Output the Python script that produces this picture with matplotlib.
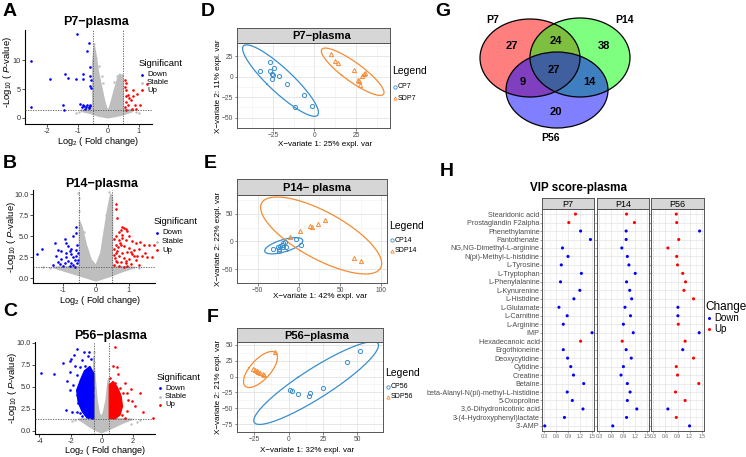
import numpy as np
import matplotlib
matplotlib.use('Agg')
import matplotlib.pyplot as plt
from matplotlib.patches import Ellipse

plt.rcParams['font.family'] = ['Liberation Sans', 'DejaVu Sans']
plt.rcParams['mathtext.fontset'] = 'custom'
plt.rcParams['mathtext.rm'] = 'Liberation Sans'
plt.rcParams['mathtext.it'] = 'Liberation Sans:italic'
plt.rcParams['mathtext.bf'] = 'Liberation Sans:bold'

# ---------------- DATA ----------------
# Volcano P7
p7_down_x = [-1.03, -0.61, -0.68, -2.53, -1.90, -1.41, -1.30, -1.05, -0.83, -0.83, -0.59, -0.58, -0.57, -0.58, -0.57,
             -2.51, -1.47, -1.44, -0.92, -0.83, -0.79, -0.72, -0.68, -0.63, -0.59, -0.86, -0.75, -0.60, -0.62]
p7_down_y = [14.6, 13.0, 11.7, 9.9, 6.7, 7.6, 6.9, 6.7, 6.7, 7.6, 8.8, 7.2, 6.5, 5.6, 5.2,
             1.9, 2.2, 1.4, 2.4, 2.2, 2.0, 1.9, 2.2, 1.8, 2.0, 1.9, 1.6, 2.3, 1.7]
p7_up_x = [0.56, 0.59, 0.57, 0.60, 0.59, 0.60, 0.57, 0.59, 1.27, 0.81, 0.67, 0.96, 0.82, 0.74, 0.89, 1.05, 0.78, 0.67, 0.68, 0.93]
p7_up_y = [6.6, 6.0, 5.3, 4.9, 3.7, 2.8, 1.9, 1.4, 5.9, 4.8, 4.0, 4.2, 3.7, 3.1, 2.2, 2.2, 1.6, 2.3, 3.4, 1.5]
p7_stable_x = [-0.45, -0.40, -0.30, -0.35, -0.20, 0.30, 0.45, -0.95, -1.05, 0.90, 1.00, -0.70, 0.75, -0.15, 0.20]
p7_stable_y = [12.8, 10.5, 9.0, 8.3, 7.2, 7.2, 7.4, 1.0, 0.9, 1.0, 0.9, 1.2, 1.2, 6.0, 6.2]
p7_cloud_x = [0.0, -0.3, -0.6, -0.85, -0.9, -0.5, -0.5, -0.45, -0.40, -0.32, -0.22, -0.12, -0.04, 0.04, 0.12, 0.22,
              0.30, 0.38, 0.47, 0.5, 0.5, 0.85, 0.7, 0.4]
p7_cloud_y = [0.0, 0.3, 0.8, 1.1, 1.3, 1.5, 9.5, 12.5, 11.0, 8.0, 5.5, 3.0, 1.5, 1.5, 3.0, 5.0,
              6.5, 7.6, 7.2, 6.0, 1.5, 1.3, 0.9, 0.4]

# Volcano P14
p14_down_x = [-1.8, -1.65, -1.25, -1.15, -1.2, -1.05, -0.95, -0.9, -0.85, -0.8, -0.75, -0.9, -0.85, -0.75, -0.7, -0.65,
              -0.6, -0.6, -0.58, -0.62, -0.6, -0.7, -1.0, -1.1, -1.3, -0.95, -0.8, -0.65, -0.58, -0.7, -0.75, -0.55,
              -0.55, -0.9, -1.05, -1.15]
p14_down_y = [2.9, 3.5, 4.2, 3.4, 2.7, 2.3, 4.7, 4.2, 3.8, 3.2, 2.9, 2.5, 2.0, 1.8, 1.6, 2.2,
              2.6, 3.4, 4.0, 5.4, 6.1, 5.0, 1.5, 1.7, 1.6, 1.8, 1.5, 1.4, 1.8, 2.5, 3.5, 2.2,
              3.0, 3.0, 3.2, 1.9]
p14_up_x = [0.62, 0.6, 0.65, 0.8, 0.85, 0.9, 0.75, 0.95, 0.7, 0.8, 1.0, 0.6, 0.55, 0.7, 0.9, 1.1, 1.2, 1.35, 1.45,
            1.6, 1.75, 0.6, 0.75, 0.85, 1.0, 1.15, 1.3, 0.55, 0.65, 0.8, 0.95, 1.1, 1.25, 1.4, 1.55, 1.7, 0.55,
            0.7, 0.85, 1.0, 1.2, 0.6, 0.75, 0.9, 1.05, 0.55, 0.7, 0.85, 1.3, 0.65, 0.58, 0.62, 0.68, 0.72, 0.8,
            0.9, 1.15, 1.05, 0.95, 1.5]
p14_up_y = [8.8, 8.2, 7.2, 6.1, 6.0, 5.9, 5.8, 5.6, 5.5, 5.2, 5.0, 5.0, 4.7, 4.5, 4.5, 4.4, 4.2, 4.3, 4.0,
            4.0, 4.0, 4.0, 3.9, 3.8, 3.6, 3.4, 3.5, 3.5, 3.2, 3.0, 3.1, 2.9, 2.7, 2.6, 2.5, 2.5, 2.8,
            2.6, 2.4, 2.3, 2.2, 2.1, 1.9, 1.8, 1.7, 1.6, 1.5, 1.4, 1.6, 1.9, 2.4, 3.0, 3.7, 4.2, 4.8,
            2.1, 2.6, 3.1, 1.5, 3.0]
p14_stable_x = [-0.55, -0.5, -0.52, 0.4, 0.3, -1.4, -1.6, 1.3, -0.35, 0.2]
p14_stable_y = [10.2, 9.5, 8.0, 10.3, 7.5, 1.2, 1.3, 1.2, 5.5, 4.5]
p14_cloud_x = [-1.3, -0.5, -0.5, -0.42, -0.3, -0.15, 0.0, 0.15, 0.25, 0.35, 0.45, 0.5, 0.5, 1.2, 0.8, 0.4, 0.0, -0.4, -0.9]
p14_cloud_y = [1.3, 1.4, 6.8, 6.0, 4.0, 2.2, 1.5, 3.0, 5.5, 8.0, 10.0, 9.5, 1.4, 1.3, 0.8, 0.2, -0.3, 0.2, 0.8]

# Volcano P56
p56_down_x = [-3.9, -3.05, -2.29, -1.92, -1.6, -0.79, -1.97, -2.05, -1.28, -0.85, -0.7, -1.71, -1.39, -1.06, -0.85,
              -2.03, -1.56, -1.17, -0.72, -2.25, -1.82, -1.43, -1.06, -0.79, -2.03, -1.6, -1.28, -0.95, -0.7, -1.49,
              -1.17, -0.85, -0.68, -1.39, -1.06, -0.85, -0.62, -1.6, -1.28, -0.52, -0.55, -0.6, -2.46, -1.75, -1.1]
p56_down_y = [6.6, 6.5, 2.4, 2.1, 9.3, 8.9, 8.1, 7.9, 8.0, 8.5, 8.1, 7.4, 7.2, 7.4, 7.0,
              6.7, 6.3, 6.0, 5.9, 5.6, 5.2, 4.9, 4.6, 4.3, 4.6, 4.1, 3.8, 3.5, 3.2, 3.1,
              2.8, 2.6, 2.0, 2.0, 1.9, 1.6, 1.5, 2.1, 1.7, 3.9, 4.9, 6.0, 7.7, 8.6, 9.0]
p56_down_core_x = [-0.5, -0.5, -0.75, -1.1, -1.35, -1.6, -1.5, -1.25, -0.95]
p56_down_core_y = [1.4, 6.5, 7.3, 6.8, 5.8, 4.6, 3.2, 2.2, 1.5]
p56_up_x = [0.87, 0.76, 0.97, 1.08, 1.88, 2.48, 1.94, 2.16, 1.63, 2.7, 3.34, 1.52, 1.19, 0.87, 0.65, 1.36, 0.97,
            1.2, 0.7, 0.87, 1.15, 0.65, 0.9, 1.3, 1.73, 1.62, 0.76, 1.0, 0.55, 1.52]
p56_up_y = [9.55, 7.3, 7.2, 6.4, 4.7, 4.3, 3.4, 2.8, 2.25, 2.1, 1.43, 1.5, 4.9, 5.4, 4.7, 4.3, 3.9,
            3.5, 3.5, 2.8, 2.4, 2.0, 1.7, 1.8, 3.5, 4.3, 1.5, 4.5, 6.0, 5.4]
p56_up_core_x = [0.5, 0.5, 0.75, 1.0, 1.25, 1.35, 1.2, 0.9]
p56_up_core_y = [1.4, 5.2, 5.6, 5.0, 4.0, 2.8, 1.8, 1.4]
p56_stable_x = [2.3, 1.9, -1.7, -1.9, -0.5, -0.48, 0.48, 2.5]
p56_stable_y = [1.0, 0.8, 1.2, 1.1, 9.0, 7.8, 7.0, 1.2]
p56_cloud_x = [-1.5, -0.5, -0.5, -0.42, -0.3, -0.15, 0.0, 0.15, 0.3, 0.42, 0.5, 0.5, 2.0, 1.4, 0.8, 0.3, 0.0, -0.3, -0.8, -1.2]
p56_cloud_y = [1.3, 1.4, 8.5, 6.0, 3.5, 2.0, 1.5, 2.2, 3.5, 5.5, 6.0, 1.4, 1.3, 0.9, 0.4, 0.0, -0.2, 0.0, 0.5, 1.0]

# PLS-DA scores
cp7_x = [-26.8, -32.8, -26.8, -24.4, -25.6, -25.2, -25.4, -21.2, -16.8, -6.4, -11.8, -1.8]
cp7_y = [18.2, 6.8, 7.5, 10.0, 3.2, 2.1, -2.5, 1.1, -8.6, -22.2, -36.4, -36.1]
sdp7_x = [10.2, 12.2, 14.2, 23.8, 29.6, 28.8, 26.2, 26.8, 27.6, 30.2]
sdp7_y = [27.0, 19.3, 16.4, 8.6, 2.9, 1.1, -3.9, -5.7, -9.6, 4.0]
cp14_x = [-31.4, -24.8, -23.0, -23.8, -23.8, -21.0, -18.6, -16.9, -19.7, -15.9, -3.8, 3.1]
cp14_y = [-13.0, -9.6, -7.4, -14.0, -17.5, -5.6, -2.8, -1.7, -9.6, -10.2, 4.5, -5.6]
sdp14_x = [-10.7, 1.4, 14.1, 15.8, 22.8, 31.4, 66.6, 75.3]
sdp14_y = [8.5, 19.8, 28.2, 25.4, 31.0, 39.5, -30.0, -35.6]
cp56_x = [51.8, 42.2, 25.4, 1.4, 2.6, 6.7, 14.6, 15.8]
cp56_y = [40.2, 23.6, -17.6, -20.6, -23.0, -28.0, -30.0, -26.6]
sdp56_x = [-9.8, -26.1, -24.5, -23.0, -22.0, -20.9, -18.9, -18.2]
sdp56_y = [38.7, 12.5, 10.0, 8.5, 7.0, 6.0, 3.5, 2.5]

# Venn counts: P7 only, P7&P14, P14 only, all, P7&P56, P14&P56, P56 only
venn_sets = ['P7', 'P14', 'P56']
venn_counts = [27, 24, 38, 27, 9, 14, 20]

# VIP scores
vip_names = ['Stearidonic acid', 'Prostaglandin F2alpha', 'Phenethylamine', 'Pantothenate',
             'NG,NG-Dimethyl-L-arginine', 'N(pi)-Methyl-L-histidine', 'L-Tyrosine', 'L-Tryptophan',
             'L-Phenylalanine', 'L-Kynurenine', 'L-Histidine', 'L-Glutamate', 'L-Carnitine', 'L-Arginine',
             'IMP', 'Hexadecanoic acid', 'Ergothioneine', 'Deoxycytidine', 'Cytidine', 'Creatine', 'Betaine',
             'beta-Alanyl-N(pi)-methyl-L-histidine', '5-Oxoproline', '3,6-Dihydronicotinic acid',
             '3-(4-Hydroxyphenyl)lactate', "3'-AMP"]
vip_p7 = [1.09, 0.92, 1.22, 1.47, 0.76, 0.90, 0.73, 1.24, 0.71, 1.20, 1.05, 0.67, 0.88, 0.78, 1.51, 1.22,
          0.78, 0.89, 0.97, 1.04, 1.30, 0.88, 1.01, 1.28, 0.81, 0.31]
vip_p14 = [0.99, 1.19, 0.98, 0.98, 0.87, 1.01, 1.05, 1.21, 0.99, 1.07, 1.12, 0.95, 1.09, 0.91, 1.16, 0.88,
           0.98, 1.11, 0.91, 0.85, 1.01, 1.08, 1.01, 1.25, 0.99, 0.64]
vip_p56 = [0.87, 0.88, 1.45, 0.93, 0.66, 0.88, 0.90, 1.03, 1.10, 1.06, 1.30, 0.91, 0.91, 0.92, 1.44, 1.09,
           1.03, 1.30, 0.87, 0.90, 1.43, 0.85, 1.09, 0.66, 0.87, 1.20]
chg_p7 = ['Up', 'Up'] + ['Down'] * 13 + ['Up'] + ['Down'] * 10
chg_p14 = ['Up', 'Up'] + ['Down'] * 13 + ['Up'] + ['Down'] * 10
chg_p56 = ['Up', 'Up', 'Down', 'Up', 'Up', 'Up', 'Up', 'Up', 'Up', 'Up', 'Up', 'Down', 'Down', 'Up',
           'Down', 'Up', 'Down', 'Up', 'Up', 'Up', 'Up', 'Up', 'Up', 'Down', 'Up', 'Down']

# ---------------- FIGURE ----------------
W, H = 746, 457
fig = plt.figure(figsize=(W / 100, H / 100), dpi=100)


def ax_px(l, t, r, b):
    return fig.add_axes([l / W, 1 - b / H, (r - l) / W, (b - t) / H])


BLUE, RED, GREY = '#0000FF', '#FF0000', '#BEBEBE'
TXT = '#333333'


def volcano(box, down, up, stable, cloud, xlim, ylim, xticks, yticks, ylabels, cores=()):
    ax = ax_px(*box)
    ax.fill(cloud[0], cloud[1], color=GREY, lw=1.2, ec=GREY, zorder=1)
    ax.scatter(stable[0], stable[1], s=3, c=GREY, lw=0, zorder=1)
    for cx, cy, col in cores:
        ax.fill(cx, cy, color=col, lw=1.0, ec=col, zorder=2)
    ax.scatter(down[0], down[1], s=3.5, c=BLUE, lw=0, zorder=3)
    ax.scatter(up[0], up[1], s=3.5, c=RED, lw=0, zorder=3)
    for v in (-0.5, 0.5):
        ax.axvline(v, color='#555555', ls=(0, (1.5, 1.5)), lw=0.6, zorder=4)
    ax.axhline(-np.log10(0.05), color='#555555', ls=(0, (1.5, 1.5)), lw=0.6, zorder=4)
    ax.set_xlim(xlim)
    ax.set_ylim(ylim)
    ax.set_xticks(xticks)
    ax.set_xticklabels([str(t) for t in xticks])
    ax.set_yticks(yticks)
    ax.set_yticklabels(ylabels)
    for s in ('top', 'right'):
        ax.spines[s].set_visible(False)
    for s in ('left', 'bottom'):
        ax.spines[s].set_linewidth(0.8)
    ax.tick_params(labelsize=5.3, colors=TXT, length=2, width=0.6, pad=1)
    return ax


volcano((25, 30, 152, 124), (p7_down_x, p7_down_y), (p7_up_x, p7_up_y), (p7_stable_x, p7_stable_y),
        (p7_cloud_x, p7_cloud_y), (-2.72, 1.44), (-1.1, 15.3), [-2, -1, 0, 1], [0, 5, 10], ['0', '5', '10'])
volcano((33, 190, 155, 283), (p14_down_x, p14_down_y), (p14_up_x, p14_up_y), (p14_stable_x, p14_stable_y),
        (p14_cloud_x, p14_cloud_y), (-1.91, 1.79), (-0.56, 10.5), [-1, 0, 1], [0, 2.5, 5, 7.5, 10],
        ['0.0', '2.5', '5.0', '7.5', '10.0'])
volcano((35, 342, 155, 434), (p56_down_x, p56_down_y), (p56_up_x, p56_up_y), (p56_stable_x, p56_stable_y),
        (p56_cloud_x, p56_cloud_y), (-4.29, 3.45), (-0.37, 10.08), [-4, -2, 0, 2], [0, 2.5, 5, 7.5, 10],
        ['0.0', '2.5', '5.0', '7.5', '10.0'],
        cores=((p56_down_core_x, p56_down_core_y, BLUE), (p56_up_core_x, p56_up_core_y, RED)))

CB, CO = '#388ECC', '#F68B33'


def conf_ellipse(x, y, level=0.95, n=200):
    x = np.asarray(x); y = np.asarray(y)
    cov = np.cov(x, y)
    vals, vecs = np.linalg.eigh(cov)
    t = np.sqrt(-2 * np.log(1 - level))
    th = np.linspace(0, 2 * np.pi, n)
    circ = np.vstack([np.cos(th), np.sin(th)])
    pts = vecs @ (np.sqrt(vals)[:, None] * circ) * t
    return pts[0] + x.mean(), pts[1] + y.mean()


def pls_panel(box, strip_h, title, title_dx, c, s, xlim, ylim, xticks, yticks):
    l, t, r, b = box
    ax = ax_px(l, t, r, b)
    ax.set_xlim(xlim); ax.set_ylim(ylim)
    ax.set_xticks(xticks); ax.set_yticks(yticks)
    dx = xticks[1] - xticks[0]; dy = yticks[1] - yticks[0]
    ax.set_xticks(np.arange(xticks[0] - dx / 2, xlim[1], dx), minor=True)
    ax.set_yticks(np.arange(yticks[0] - dy / 2, ylim[1], dy), minor=True)
    ax.grid(which='major', color='#E3E3E3', lw=0.6)
    ax.grid(which='minor', color='#F0F0F0', lw=0.4)
    ax.set_axisbelow(True)
    for sp in ax.spines.values():
        sp.set_color('#555555'); sp.set_linewidth(0.7)
    ax.tick_params(labelsize=4.8, colors='#4D4D4D', length=1.8, width=0.5, pad=1)
    ax.tick_params(which='minor', length=0)
    ex, ey = conf_ellipse(*c)
    ax.plot(ex, ey, color=CB, lw=0.9)
    ex, ey = conf_ellipse(*s)
    ax.plot(ex, ey, color=CO, lw=0.9)
    ax.plot(c[0], c[1], 'o', ms=3, mfc='none', mec=CB, mew=0.7, ls='none')
    ax.plot(s[0], s[1], '^', ms=3, mfc='none', mec=CO, mew=0.7, ls='none')
    sax = ax_px(l, t - strip_h, r, t)
    sax.set_xticks([]); sax.set_yticks([])
    sax.set_facecolor('#D6D6D6')
    for sp in sax.spines.values():
        sp.set_color('#555555'); sp.set_linewidth(0.7)
    sax.text(0.5 + title_dx / (r - l), 0.45, title, ha='center', va='center', fontsize=8, fontweight='bold',
             transform=sax.transAxes)
    return ax


pls_panel((237, 43, 390, 128), 15, 'P7\u2212plasma', 8, (cp7_x, cp7_y), (sdp7_x, sdp7_y),
          (-46.6, 45.4), (-51, 41), [-25, 0, 25], [-50, -25, 0, 25])
pls_panel((237, 195, 387, 283), 16, 'P14\u2212 plasma', 5, (cp14_x, cp14_y), (sdp14_x, sdp14_y),
          (-51, 107), (-65, 84), [-50, 0, 50, 100], [-50, 0, 50])
pls_panel((237, 342, 383, 432), 14, 'P56\u2212plasma', 7, (cp56_x, cp56_y), (sdp56_x, sdp56_y),
          (-36.5, 68.7), (-81, 54.5), [-25, 0, 25, 50], [-75, -50, -25, 0, 25, 50])

# VIP panels
n = len(vip_names)
vip_boxes = [(542, 209, 594, 431), (597, 209, 649, 431), (651, 209, 704, 431)]
for k, (vals, chg, lab) in enumerate(zip((vip_p7, vip_p14, vip_p56), (chg_p7, chg_p14, chg_p56), ('P7', 'P14', 'P56'))):
    l, t, r, b = vip_boxes[k]
    ax = ax_px(l, t, r, b)
    rows = np.arange(n)
    cols = [BLUE if c == 'Down' else RED for c in chg]
    ax.set_xlim(0.24, 1.56)
    ax.set_ylim(n - 0.4, -0.6)
    ax.set_xticks([0.3, 0.6, 0.9, 1.2, 1.5])
    ax.set_xticks([0.45, 0.75, 1.05, 1.35], minor=True)
    ax.set_xticklabels(['0.3', '0.6', '0.9', '1.2', '1.5'])
    ax.set_yticks(rows)
    if k == 0:
        ax.set_yticklabels(vip_names)
    else:
        ax.set_yticklabels([])
    ax.grid(which='major', color='#E3E3E3', lw=0.5)
    ax.grid(which='minor', axis='x', color='#EFEFEF', lw=0.4)
    ax.set_axisbelow(True)
    ax.scatter(vals, rows, s=5, c=cols, lw=0, zorder=3)
    for sp in ax.spines.values():
        sp.set_color('#555555'); sp.set_linewidth(0.7)
    ax.tick_params(axis='x', labelsize=3.6, colors='#666666', length=1.2, width=0.4, pad=1)
    ax.tick_params(axis='y', labelsize=5.2, colors='#4D4D4D', length=1.2, width=0.4, pad=0.5)
    ax.tick_params(which='minor', length=0)
    sax = ax_px(l, 198, r, 209)
    sax.set_xticks([]); sax.set_yticks([])
    sax.set_facecolor('#D6D6D6')
    for sp in sax.spines.values():
        sp.set_color('#555555'); sp.set_linewidth(0.7)
    sax.text(0.5, 0.45, lab, ha='center', va='center', fontsize=6.5, transform=sax.transAxes)

# ---------------- OVERLAY (texts, legends, Venn) ----------------
ov = fig.add_axes([0, 0, 1, 1])
ov.set_xlim(0, W); ov.set_ylim(H, 0); ov.axis('off')

for letter, x, y in (('A', 10, 12), ('B', 10, 163), ('C', 10, 312), ('D', 208, 12), ('E', 210, 163),
                     ('F', 213, 318), ('G', 443, 11), ('H', 447, 172)):
    ov.text(x, y, letter, fontsize=14, fontweight='bold', ha='center', va='center')

# volcano titles / labels / legends
for title, x, y in (('P7\u2212plasma', 96, 21.5), ('P14\u2212plasma', 102, 183.5), ('P56\u2212plasma', 111, 335.5)):
    ov.text(x, y, title, fontsize=9, fontweight='bold', ha='center', va='center')
for x, y in ((98, 141), (100, 300.5), (105, 450.5)):
    ov.text(x, y, r'Log$_2$ ( Fold change)', fontsize=6.6, ha='center', va='center')
for x, y in ((7.5, 72), (12, 237), (12.5, 388)):
    ov.text(x, y, r'-Log$_{10}$ ( $\it{P}$-value)', fontsize=6.8, ha='center', va='center', rotation=90)
for lx, ty, ys in ((139, 63, (75, 83, 90)), (154, 221.5, (233, 241.5, 250)), (157, 377, (388, 396.5, 405))):
    ov.text(lx, ty, 'Significant', fontsize=6.8, ha='left', va='center')
    for (lab, col), yy in zip((('Down', BLUE), ('Stable', GREY), ('Up', RED)), ys):
        ov.plot([lx + 3], [yy], 'o', ms=2, color=col, mew=0)
        ov.text(lx + 8, yy, lab, fontsize=5.6, ha='left', va='center')

# PLS-DA labels and legends
for pct1, pct2, xc, yx, yc in (('25%', '11%', 325, 145, 86), ('42%', '22%', 320, 297, 239), ('32%', '21%', 307, 450, 387)):
    ov.text(xc, yx, 'X\u2212variate 1: %s expl. var' % pct1, fontsize=5.8, ha='center', va='center')
    ov.text(219, yc, 'X\u2212variate 2: %s expl. var' % pct2, fontsize=5.8, ha='center', va='center', rotation=90)
for lx, ty, ya, yb, la, lb in ((392, 71, 87, 98, 'CP7', 'SDP7'), (389, 226, 240, 251, 'CP14', 'SDP14'),
                              (385, 373, 387, 397, 'CP56', 'SDP56')):
    ov.text(lx, ty, 'Legend', fontsize=7.5, ha='left', va='center')
    ov.plot([lx + 2.5], [ya], 'o', ms=2.4, mfc='none', mec=CB, mew=0.6)
    ov.plot([lx + 2.5], [yb], '^', ms=2.4, mfc='none', mec=CO, mew=0.6)
    ov.text(lx + 6, ya, la, fontsize=5, ha='left', va='center')
    ov.text(lx + 6, yb, lb, fontsize=5, ha='left', va='center')

# Venn diagram
venn_geom = [((530, 58), 100, 78, '#FF0000'), ((580, 57.5), 100, 79, '#00FF00'), ((557, 90), 102, 76, '#0000FF')]
for (cxy, w, h, col) in venn_geom:
    ov.add_patch(Ellipse(cxy, w, h, facecolor=col, alpha=0.5, edgecolor='none'))
for (cxy, w, h, col) in venn_geom:
    ov.add_patch(Ellipse(cxy, w, h, facecolor='none', edgecolor='black', lw=0.9))
for name, (x, y) in zip(venn_sets, ((493, 20), (624, 20), (550, 138))):
    ov.text(x, y, name, fontsize=7.5, fontweight='bold', ha='center', va='center')
for cnt, (x, y) in zip(venn_counts, ((512, 46), (556, 41), (604, 46), (554, 70), (523, 82), (589, 82), (556, 112))):
    ov.text(x, y, str(cnt), fontsize=8, fontweight='bold', ha='center', va='center')

# VIP title and legend
ov.text(578, 188, 'VIP score-plasma', fontsize=8.4, fontweight='bold', ha='center', va='center')
ov.text(705, 307, 'Change', fontsize=8.5, ha='left', va='center')
for lab, col, yy in (('Down', BLUE, 318), ('Up', RED, 329)):
    ov.plot([709], [yy], 'o', ms=2.2, color=col, mew=0)
    ov.text(714, yy, lab, fontsize=7, ha='left', va='center')

fig.savefig('out.png', dpi=100)
